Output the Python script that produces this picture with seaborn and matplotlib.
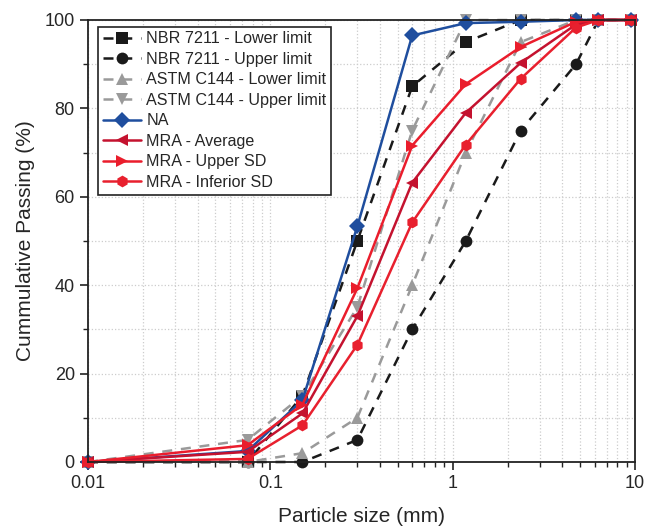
import numpy as np
import pandas as pd
import matplotlib
matplotlib.use('Agg')
import matplotlib.pyplot as plt
import seaborn as sns
from matplotlib.ticker import LogLocator, MultipleLocator, NullFormatter, FuncFormatter

# sieve openings (mm)
sieves = [0.01, 0.075, 0.15, 0.3, 0.6, 1.18, 2.36, 4.75, 6.3, 9.5]

# cumulative passing (%)
nbr_lower = [0, 0, 15, 50, 85, 95, 100, 100, 100, 100]
nbr_upper = [0, 0, 0, 5, 30, 50, 75, 90, 100, 100]
astm_lower = [0, 0, 2, 10, 40, 70, 95, 100, 100, 100]
astm_upper = [0, 5, 15, 35, 75, 100, 100, 100, 100, 100]
na = [0, 2.5, 14, 53.3, 96.5, 99.3, 99.6, 100, 100, 100]
mra_avg = [0, 2.3, 11, 33, 63.2, 79, 90.3, 99, 100, 100]
mra_upper = [0, 3.8, 13, 39.3, 71.6, 85.5, 93.9, 99.6, 100, 100]
mra_inf = [0, 0.7, 8.3, 26.5, 54.2, 71.8, 86.7, 98.3, 100, 100]

series = [
    ('NBR 7211 - Lower limit', nbr_lower, '#1a1a1a', 's', '--'),
    ('NBR 7211 - Upper limit', nbr_upper, '#1a1a1a', 'o', '--'),
    ('ASTM C144 - Lower limit', astm_lower, '#9a9a9a', '^', '--'),
    ('ASTM C144 - Upper limit', astm_upper, '#9a9a9a', 'v', '--'),
    ('NA', na, '#1f4e9e', 'D', '-'),
    ('MRA - Average', mra_avg, '#c4122f', '<', '-'),
    ('MRA - Upper SD', mra_upper, '#ea1d2c', '>', '-'),
    ('MRA - Inferior SD', mra_inf, '#e8202e', 'h', '-'),
]

sns.set_theme(style='ticks')
plt.rcParams['font.family'] = ['Liberation Sans', 'DejaVu Sans']

fig = plt.figure(figsize=(6.45, 5.3), dpi=100)
ax = fig.add_axes([88 / 645, 1 - 462 / 530, 547 / 645, 442 / 530])

for name, vals, col, mk, ls in series:
    df = pd.DataFrame({'size': sieves, 'passing': vals})
    sns.lineplot(data=df, x='size', y='passing', ax=ax, color=col, marker=mk,
                 markersize=8.5, markeredgewidth=0, linewidth=1.8, label=name,
                 sort=False, clip_on=False)
    if ls == '--':
        ax.lines[-1].set_dashes((4, 3.5))

ax.set_xscale('log')
ax.set_xlim(0.01, 10)
ax.set_ylim(0, 100)
ax.xaxis.set_major_locator(LogLocator(base=10, numticks=10))
ax.xaxis.set_minor_locator(LogLocator(base=10, subs=np.arange(2, 10), numticks=10))
ax.xaxis.set_minor_formatter(NullFormatter())
ax.xaxis.set_major_formatter(FuncFormatter(lambda v, p: '%g' % v))
ax.yaxis.set_major_locator(MultipleLocator(20))
ax.yaxis.set_minor_locator(MultipleLocator(10))

ax.grid(which='both', color='#cccccc', linestyle=':', linewidth=0.9)
ax.set_axisbelow(True)
ax.tick_params(which='major', direction='out', length=6, width=1.2, labelsize=13, color='#222222')
ax.tick_params(which='minor', direction='out', length=3.5, width=1, color='#222222')
for sp in ax.spines.values():
    sp.set_linewidth(1.3)
    sp.set_color('#222222')

ax.set_xlabel('Particle size (mm)', fontsize=15, labelpad=11)
ax.set_ylabel('Cummulative Passing (%)', fontsize=15, labelpad=7)

leg = ax.legend(loc='upper left', bbox_to_anchor=(0.018, 0.985), fontsize=11.6,
                frameon=True, fancybox=False, edgecolor='#222222', framealpha=1,
                labelspacing=0.34, handlelength=2.4, handletextpad=0.3, borderpad=0.3,
                borderaxespad=0)
leg.get_frame().set_linewidth(1.2)

fig.savefig('out.png', dpi=100)
